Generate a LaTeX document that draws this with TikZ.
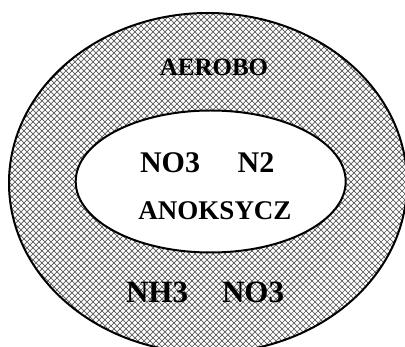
\documentclass[tikz,border=0pt]{standalone}
\usepackage{fontspec}
\setmainfont{Liberation Serif}
\usetikzlibrary{patterns.meta}
\tikzdeclarepattern{
  name=mesh,
  type=uncolored,
  bounding box={(-0.5pt,-0.5pt) and (6.5pt,6.5pt)},
  tile size={(6pt,6pt)},
  code={\draw[line width=0.7pt] (0pt,0pt)--(6pt,6pt) (0pt,6pt)--(6pt,0pt);}
}
\tikzset{
  zone/.style={draw=black, line width=2pt},
  lbl/.style={inner sep=0pt, font=\bfseries}
}
\begin{document}
\begin{tikzpicture}[x=1pt,y=-1pt]
\useasboundingbox (0,0) rectangle (405,347);
\clip (0,0) rectangle (405,347);
\path[zone, pattern={mesh}, pattern color=black!65] (208,183) ellipse [x radius=199, y radius=170];
\path[zone, fill=white] (210.7,181.5) ellipse [x radius=135, y radius=71];
\node[lbl, font=\bfseries\fontsize{25}{25}\selectfont] (aer) at (214,67) {AEROBO};
\node[lbl, font=\bfseries\fontsize{30}{30}\selectfont] (no3a) at (170,163) {NO3};
\node[lbl, font=\bfseries\fontsize{30}{30}\selectfont] (n2) at (256,163) {N2};
\node[lbl, font=\bfseries\fontsize{27}{27}\selectfont] (anok) at (215,211) {ANOKSYCZ};
\node[lbl, font=\bfseries\fontsize{31}{31}\selectfont] (nh3) at (157,292) {NH3};
\node[lbl, font=\bfseries\fontsize{31}{31}\selectfont] (no3b) at (253,292) {NO3};
\end{tikzpicture}
\end{document}
